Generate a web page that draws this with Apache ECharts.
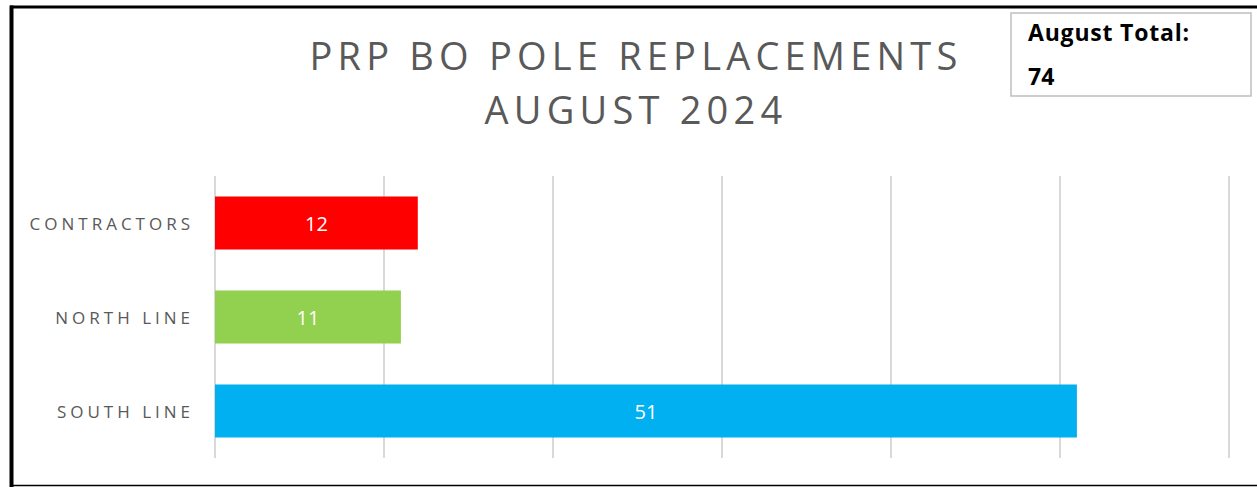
<!DOCTYPE html>
<html>
<head>
<meta charset="utf-8">
<script src="https://cdn.jsdelivr.net/npm/echarts@6/dist/echarts.min.js"></script>
<style>
  html, body { margin: 0; padding: 0; background: #fff; }
  #chart { width: 1257px; height: 487px; }
</style>
</head>
<body>
<div id="chart"></div>
<script>
// data
const categories = ['SOUTH LINE', 'NORTH LINE', 'CONTRACTORS'];
const poleCounts = [51, 11, 12];
const barColors = ['#00B0F0', '#92D050', '#FF0000'];
const titleLines = ['PRP BO POLE REPLACEMENTS', 'AUGUST 2024'];
const totalLabel = 'August Total:';
const totalValue = 74;

const chartDom = document.getElementById('chart');
const theChart = echarts.init(chartDom, null, { renderer: 'svg' });

const option = {
  animation: false,
  title: {
    text: titleLines.join('\n'),
    left: 631,
    top: 23,
    textAlign: 'center',
    textStyle: {
      fontFamily: 'Open Sans',
      fontSize: 38,
      fontWeight: 'normal',
      color: '#595959',
      lineHeight: 54
    }
  },
  grid: { left: 215, right: 28, top: 176, bottom: 29 },
  xAxis: {
    type: 'value',
    min: 0,
    max: 60,
    interval: 10,
    axisLabel: { show: false },
    axisLine: { show: false },
    axisTick: { show: false },
    splitLine: { lineStyle: { color: '#d9d9d9', width: 2 } }
  },
  yAxis: {
    type: 'category',
    data: categories,
    axisLine: { show: false },
    axisTick: { show: false },
    axisLabel: {
      margin: 21,
      fontFamily: 'Open Sans',
      fontSize: 17,
      color: '#595959'
    }
  },
  series: [{
    type: 'bar',
    barWidth: 53,
    data: poleCounts.map((v, i) => ({ value: v, itemStyle: { color: barColors[i] } })),
    label: {
      show: true,
      position: 'inside',
      color: '#fff',
      fontFamily: 'Open Sans',
      fontSize: 20
    }
  }],
  graphic: [
    // frame round the picture
    { type: 'line', shape: { x1: 10, y1: 7, x2: 1257, y2: 7 }, style: { stroke: '#000', lineWidth: 3 } },
    { type: 'line', shape: { x1: 11.5, y1: 5.5, x2: 11.5, y2: 487 }, style: { stroke: '#000', lineWidth: 4 } },
    { type: 'line', shape: { x1: 10, y1: 485.5, x2: 1257, y2: 485.5 }, style: { stroke: '#000', lineWidth: 1.5 } },
    // total box
    { type: 'rect', shape: { x: 1011, y: 13, width: 240, height: 83 }, style: { fill: '#fff', stroke: '#bfbfbf', lineWidth: 1.5 } },
    { type: 'text', x: 1028, y: 32, style: { text: totalLabel, fontFamily: 'Open Sans', fontWeight: 'bold', fontSize: 23, fill: '#000', verticalAlign: 'middle' } },
    { type: 'text', x: 1028, y: 76, style: { text: String(totalValue), fontFamily: 'Open Sans', fontWeight: 'bold', fontSize: 23, fill: '#000', verticalAlign: 'middle' } }
  ]
};

theChart.setOption(option);

// echarts has no letter spacing, so add it to the svg text afterwards
const spacing = { 'PRP BO POLE REPLACEMENTS': 5.2, 'AUGUST 2024': 5.2, 'August Total:': 0.8 };
categories.forEach(c => { spacing[c] = 4; });
chartDom.querySelectorAll('text').forEach(t => {
  const s = spacing[t.textContent.trim()];
  if (s) t.setAttribute('letter-spacing', s);
});
</script>
</body>
</html>
